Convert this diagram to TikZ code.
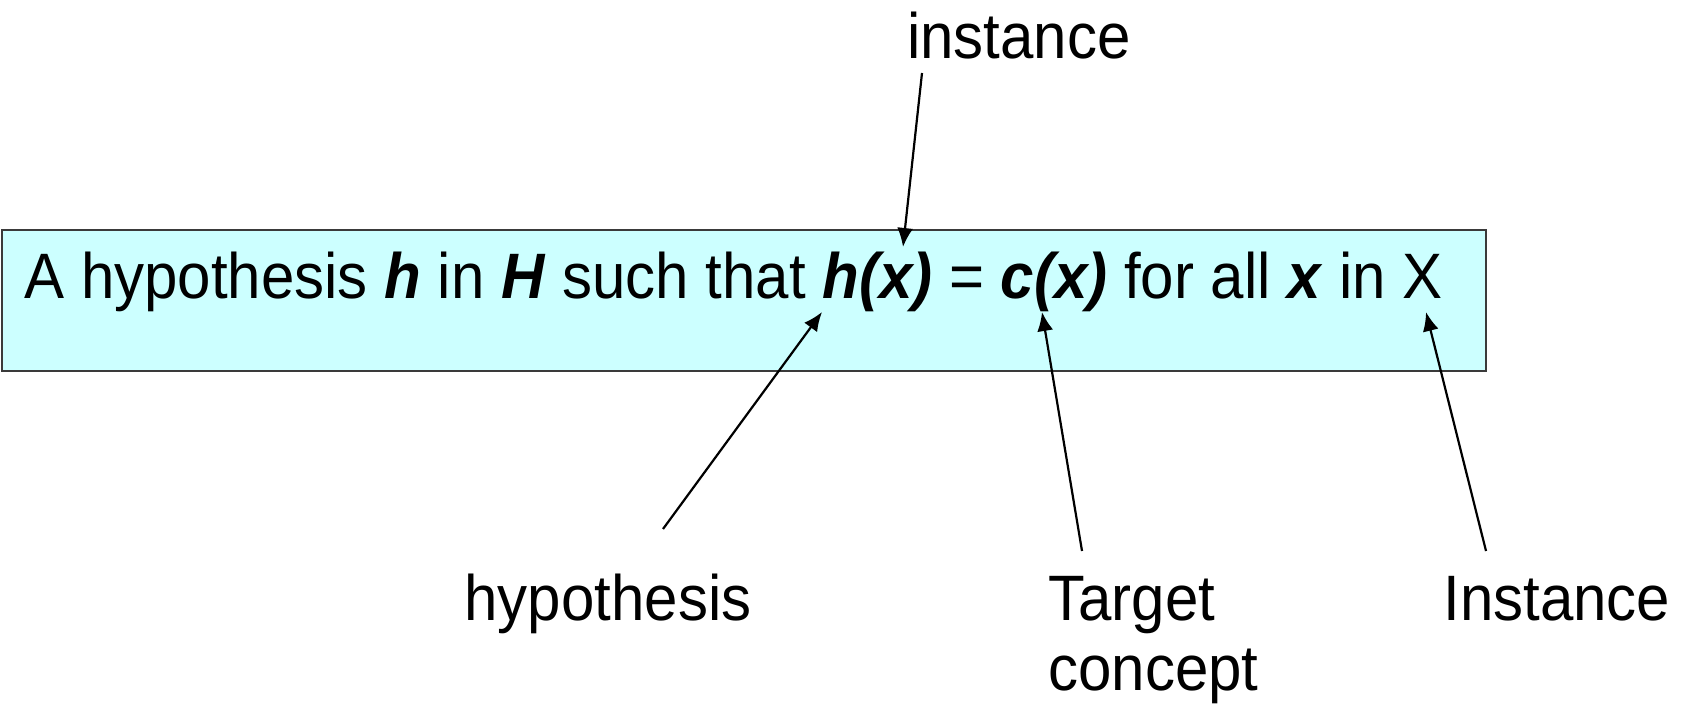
\documentclass[tikz,border=0pt]{standalone}
\usepackage{fontspec}
\setmainfont{Liberation Sans}
\usetikzlibrary{arrows.meta}
\definecolor{boxfill}{HTML}{CCFFFF}
\definecolor{boxline}{HTML}{3A3A3A}
\tikzset{
  lbl/.style={inner sep=0pt, font=\fontsize{30}{36}\selectfont},
  ptr/.style={line width=1.1pt, -{Latex[length=9.5pt,width=8pt]}},
}
\newcommand{\bi}[1]{\textbf{\textit{#1}}}
\newcommand{\tall}[1]{\scalebox{1}[1.07]{#1}}
\begin{document}
\begin{tikzpicture}[x=0.5pt,y=-0.5pt]
\useasboundingbox (0,0) rectangle (1685,704);
\node[draw=boxline, fill=boxfill, line width=1.2pt, minimum width=742pt, minimum height=70.5pt, anchor=north west, inner sep=0pt] (box) at (0.6,229) {};
\node[lbl, anchor=base west] (txt) at (24,299) {\tall{A hypothesis \bi{h} in \bi{H} such that \bi{h(x)} = \bi{c(x)} for all \bi{x} in X}};
\node[lbl, anchor=base] (inst) at (1019,59) {\tall{instance}};
\node[lbl, anchor=base] (hyp) at (608,621) {\tall{hypothesis}};
\node[lbl, anchor=base west] (tgt) at (1048,621) {\tall{Target}};
\node[lbl, anchor=base west] (tgt2) at (1048,690) {\tall{concept}};
\node[lbl, anchor=base west] (Inst) at (1443,621) {\tall{Instance}};
\coordinate (a1s) at (922,73);  \coordinate (a1e) at (903,247);
\coordinate (a2s) at (663,529); \coordinate (a2e) at (822,312);
\coordinate (a3s) at (1082,551); \coordinate (a3e) at (1042,312);
\coordinate (a4s) at (1486,551); \coordinate (a4e) at (1426,312);
\draw[ptr] (a1s) -- (a1e);
\draw[ptr] (a2s) -- (a2e);
\draw[ptr] (a3s) -- (a3e);
\draw[ptr] (a4s) -- (a4e);
\end{tikzpicture}
\end{document}
